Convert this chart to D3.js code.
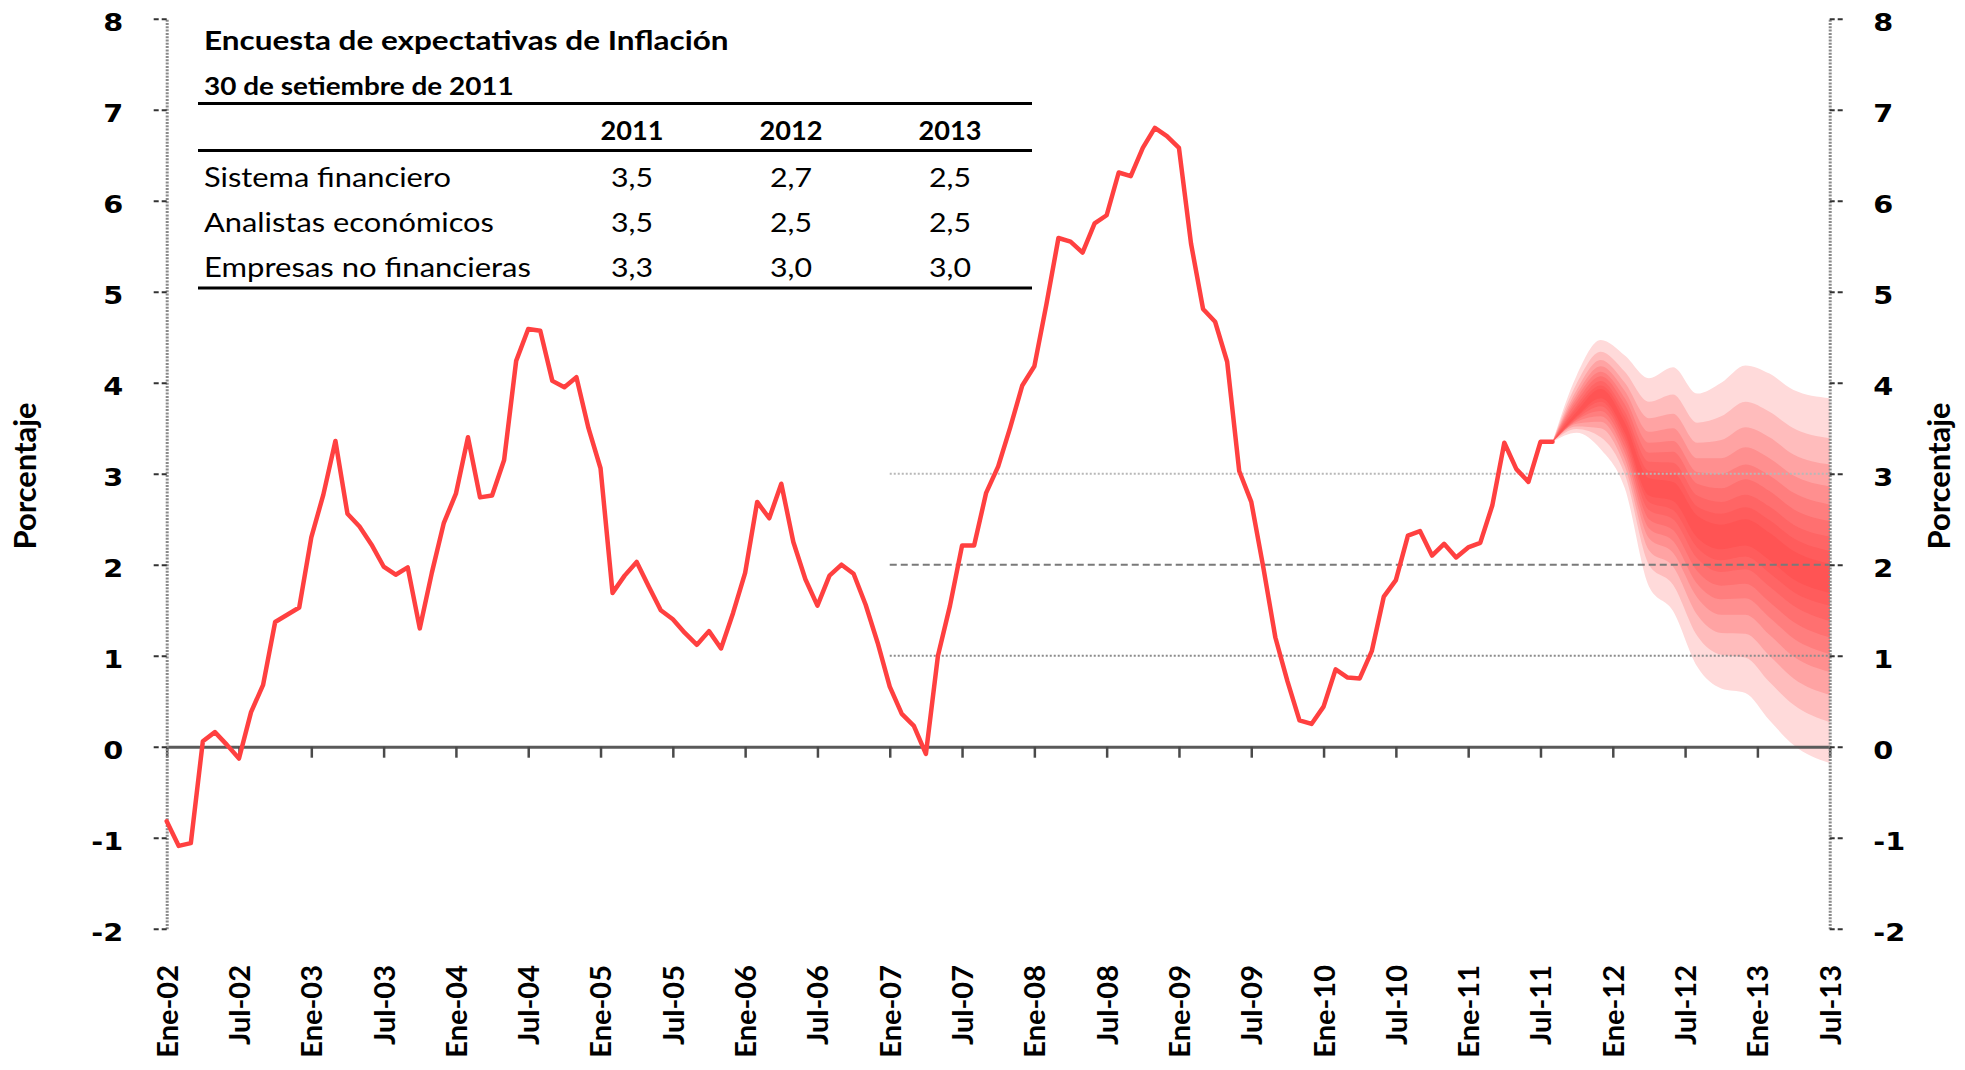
<!DOCTYPE html>
<html><head><meta charset="utf-8">
<script src="https://cdn.jsdelivr.net/npm/d3@7"></script>
<style>body{margin:0;background:#fff;} svg{display:block;background:#fff;}</style>
</head><body>
<svg id="chart" width="1965" height="1070"></svg>
<script>
// ---------------- DATA ----------------
const seriesStart = "Ene-02";
// Inflación 12 meses (%), mensual Ene-02 .. Ago-11
const inflation = [
 -0.82,-1.09,-1.06,0.06,0.16,0.02,-0.13,0.38,0.68,1.37,1.45,1.53,
 2.30,2.77,3.36,2.56,2.42,2.22,1.98,1.89,1.97,1.30,1.91,2.46,
 2.78,3.40,2.74,2.76,3.15,4.24,4.59,4.57,4.02,3.95,4.06,3.50,
 3.06,1.69,1.88,2.03,1.76,1.50,1.40,1.25,1.12,1.27,1.08,1.47,
 1.91,2.69,2.51,2.89,2.25,1.84,1.55,1.88,2.00,1.90,1.56,1.14,
 0.66,0.36,0.23,-0.08,1.00,1.55,2.21,2.21,2.79,3.08,3.51,3.97,
 4.18,4.86,5.59,5.55,5.43,5.75,5.84,6.31,6.27,6.58,6.80,6.71,
 6.58,5.53,4.81,4.67,4.23,3.03,2.69,1.97,1.20,0.72,0.29,0.25,
 0.44,0.85,0.76,0.75,1.05,1.65,1.83,2.32,2.37,2.10,2.23,2.08,
 2.19,2.24,2.65,3.34,3.05,2.91,3.35,3.35
];

// Fan chart (percentiles of projected inflation)
const fanPeriods = ["Ago-11","Oct-11","Dic-11","Feb-12","Abr-12","Jun-12","Ago-12","Oct-12","Dic-12","Feb-13","Abr-13","Jul-13"];
const fanP05 = [3.35,3.45,3.27,2.84,1.76,1.49,0.88,0.64,0.59,0.29,0.02,-0.18];
const fanP10 = [3.35,3.49,3.40,2.99,2.00,1.78,1.22,1.01,0.98,0.71,0.46,0.27];
const fanP15 = [3.35,3.52,3.50,3.08,2.16,1.98,1.45,1.25,1.24,1.00,0.75,0.57];
const fanP20 = [3.35,3.55,3.57,3.16,2.29,2.13,1.64,1.45,1.45,1.23,0.99,0.82];
const fanP25 = [3.35,3.57,3.63,3.23,2.40,2.26,1.79,1.62,1.63,1.42,1.19,1.02];
const fanP30 = [3.35,3.59,3.69,3.29,2.50,2.38,1.93,1.77,1.79,1.59,1.37,1.20];
const fanP35 = [3.35,3.60,3.74,3.35,2.60,2.50,2.07,1.92,1.95,1.76,1.55,1.38];
const fanP40 = [3.35,3.62,3.79,3.40,2.69,2.60,2.19,2.05,2.09,1.91,1.70,1.55];
const fanP45 = [3.35,3.63,3.83,3.45,2.76,2.70,2.30,2.17,2.21,2.05,1.84,1.69];
const fanP50 = [3.35,3.65,3.88,3.50,2.85,2.80,2.42,2.30,2.35,2.20,2.00,1.85];
const fanP55 = [3.35,3.68,3.93,3.56,2.95,2.91,2.54,2.44,2.50,2.35,2.15,2.01];
const fanP60 = [3.35,3.72,3.97,3.62,3.03,3.01,2.64,2.56,2.63,2.49,2.29,2.15];
const fanP65 = [3.35,3.75,4.02,3.68,3.13,3.12,2.76,2.69,2.77,2.64,2.44,2.31];
const fanP70 = [3.35,3.79,4.07,3.76,3.23,3.24,2.89,2.84,2.94,2.81,2.61,2.48];
const fanP75 = [3.35,3.83,4.12,3.83,3.34,3.36,3.02,3.00,3.10,2.98,2.79,2.66];
const fanP80 = [3.35,3.87,4.18,3.91,3.46,3.50,3.17,3.17,3.29,3.17,2.98,2.86];
const fanP85 = [3.35,3.92,4.25,4.00,3.61,3.66,3.34,3.37,3.51,3.40,3.21,3.10];
const fanP90 = [3.35,3.99,4.34,4.12,3.79,3.87,3.56,3.63,3.79,3.68,3.50,3.39];
const fanP95 = [3.35,4.08,4.47,4.30,4.05,4.17,3.88,4.00,4.19,4.10,3.92,3.83];

const xTickLabels = ["Ene-02","Jul-02","Ene-03","Jul-03","Ene-04","Jul-04","Ene-05","Jul-05",
  "Ene-06","Jul-06","Ene-07","Jul-07","Ene-08","Jul-08","Ene-09","Jul-09","Ene-10","Jul-10",
  "Ene-11","Jul-11","Ene-12","Jul-12","Ene-13","Jul-13"];
const yTicks = [-2,-1,0,1,2,3,4,5,6,7,8];
const refLevels = [3, 2, 1];
const refStart = "Ene-07";
const yAxisTitle = "Porcentaje";

const tableTitle = "Encuesta de expectativas de Inflación";
const tableSubtitle = "30 de setiembre de 2011";
const tableYears = ["2011","2012","2013"];
const tableRows = ["Sistema financiero","Analistas económicos","Empresas no financieras"];
const tableSF = [3.5, 2.7, 2.5];
const tableAE = [3.5, 2.5, 2.5];
const tableENF = [3.3, 3.0, 3.0];

// ---------------- HELPERS ----------------
const monthNames = ["Ene","Feb","Mar","Abr","May","Jun","Jul","Ago","Set","Oct","Nov","Dic"];
function monthIndex(lbl){
  const [m, yy] = lbl.split("-");
  const s = seriesStart.split("-");
  return (+yy - +s[1]) * 12 + monthNames.indexOf(m) - monthNames.indexOf(s[0]);
}
const svg = d3.select("#chart");

function addText(parent, x, y, txt, o){
  const g = parent.append("g").attr("transform", `translate(${x},${y})` + (o.rotate ? ` rotate(${o.rotate})` : ""));
  const t = g.append("text")
    .attr("text-anchor", o.anchor || "start")
    .attr("dy", o.dy || 0)
    .style("font-family", o.family || "Lato, 'Open Sans', sans-serif")
    .style("font-size", o.size + "px")
    .style("font-weight", o.weight || 400)
    .style("fill", o.fill || "#000")
    .text(txt);
  let s = o.sx || 1;
  if (o.width) { const w = t.node().getComputedTextLength(); if (w > 0) s = o.width / w; }
  t.attr("transform", `scale(${s},1)`);
  return t;
}

// ---------------- SCALES ----------------
const x = d3.scaleLinear()
  .domain([monthIndex("Ene-02"), monthIndex("Jul-13")])
  .range([166.7, 1829.7]);
const y = d3.scaleLinear().domain([-2, 8]).range([928.7, 18.7]);

// ---------------- FAN ----------------
const fanX = fanPeriods.map(monthIndex);
const fanPairs = [
  [fanP05, fanP95],[fanP10, fanP90],[fanP15, fanP85],[fanP20, fanP80],[fanP25, fanP75],
  [fanP30, fanP70],[fanP35, fanP65],[fanP40, fanP60],[fanP45, fanP55]
];
const area = d3.area()
  .x(d => x(d.m)).y0(d => y(d.lo)).y1(d => y(d.hi))
  .curve(d3.curveMonotoneX);
const gFan = svg.append("g");
fanPairs.forEach((pair, k) => {
  const a = 1 - Math.pow(1 - 0.18, k + 1);
  const gb = Math.round(255 - 205 * a);
  const data = fanX.map((m, i) => ({m, lo: pair[0][i], hi: pair[1][i]}));
  gFan.append("path").datum(data)
    .attr("d", area)
    .attr("fill", `rgb(255,${gb},${gb})`)
    .attr("stroke", "none");
});

// ---------------- REFERENCE LINES ----------------
const refStyle = {
  3: {stroke: "#b8b8b8", dash: "2,2", w: 2},
  2: {stroke: "#7a7a7a", dash: "7,4", w: 2},
  1: {stroke: "#8c8c8c", dash: "2,2", w: 2}
};
svg.append("g").selectAll("line").data(refLevels).join("line")
  .attr("x1", x(monthIndex(refStart))).attr("x2", x(monthIndex("Jul-13")))
  .attr("y1", d => y(d)).attr("y2", d => y(d))
  .attr("stroke", d => refStyle[d].stroke)
  .attr("stroke-width", d => refStyle[d].w)
  .attr("stroke-dasharray", d => refStyle[d].dash);

// ---------------- X AXIS (at 0) ----------------
const xTickVals = xTickLabels.map(monthIndex);
const xAxis = d3.axisBottom(x).tickValues(xTickVals).tickSize(11).tickSizeOuter(0)
  .tickFormat((d, i) => xTickLabels[i]);
const gx = svg.append("g").attr("transform", `translate(0,${y(0)})`).call(xAxis);
gx.select(".domain").attr("stroke", "#5a5a5a").attr("stroke-width", 3);
gx.selectAll(".tick line").attr("stroke", "#4a4a4a").attr("stroke-width", 2.5);
gx.selectAll(".tick text")
  .attr("transform", "rotate(-90)")
  .attr("x", -(965 - y(0)))
  .attr("y", 0)
  .attr("dy", "0.36em")
  .attr("text-anchor", "end")
  .style("font-family", "Lato, sans-serif")
  .style("font-weight", 700)
  .style("font-size", "29px")
  .style("fill", "#000");

// ---------------- Y AXES ----------------
function styleY(g){
  g.select(".domain").attr("stroke", "#8a8a8a").attr("stroke-width", 3).attr("stroke-dasharray", "2,1.3");
  g.selectAll(".tick line").attr("stroke", "#333").attr("stroke-width", 2).attr("stroke-dasharray", "5,3");
}
const gyl = svg.append("g").attr("transform", `translate(${x.range()[0]},0)`)
  .call(d3.axisLeft(y).tickValues(yTicks).tickSize(15).tickSizeOuter(0).tickFormat(""));
styleY(gyl);
const gyr = svg.append("g").attr("transform", `translate(${x.range()[1]},0)`)
  .call(d3.axisRight(y).tickValues(yTicks).tickSize(15).tickSizeOuter(0).tickFormat(""));
styleY(gyr);

const gyLabels = svg.append("g");
yTicks.forEach(v => {
  addText(gyLabels, x.range()[0] - 43.5, y(v) + 12, String(v),
    {size: 25, weight: 700, family: "'DejaVu Sans', sans-serif", anchor: "end", sx: 1.15});
  addText(gyLabels, x.range()[1] + 43.5, y(v) + 12, String(v),
    {size: 25, weight: 700, family: "'DejaVu Sans', sans-serif", anchor: "start", sx: 1.15});
});

addText(svg, 36, 476, yAxisTitle, {size: 30, weight: 700, anchor: "middle", rotate: -90, width: 147});
addText(svg, 1950, 476, yAxisTitle, {size: 30, weight: 700, anchor: "middle", rotate: -90, width: 147});

// ---------------- MAIN LINE ----------------
const line = d3.line().x((d, i) => x(i)).y(d => y(d));
svg.append("path").datum(inflation)
  .attr("d", line)
  .attr("fill", "none")
  .attr("stroke", "#ff4040")
  .attr("stroke-width", 4.5)
  .attr("stroke-linejoin", "round")
  .attr("stroke-linecap", "round");

// ---------------- TABLE ----------------
const gT = svg.append("g");
addText(gT, 204, 50, tableTitle, {size: 26, weight: 700, width: 525});
addText(gT, 204, 95, tableSubtitle, {size: 24, weight: 700, width: 310});
[103.5, 150.5, 288].forEach(yy => {
  gT.append("line").attr("x1", 198).attr("x2", 1032).attr("y1", yy).attr("y2", yy)
    .attr("stroke", "#000").attr("stroke-width", 3);
});
const colX = [632, 791, 950];
tableYears.forEach((t, i) => addText(gT, colX[i], 140, t, {size: 27, weight: 700, anchor: "middle", width: 63}));
const rowY = [186.5, 232, 277];
const rowW = [247, 290, 327];
const rowVals = [tableSF, tableAE, tableENF];
const fmt = v => d3.format(".1f")(v).replace(".", ",");
tableRows.forEach((r, i) => {
  addText(gT, 204, rowY[i], r, {size: 26, weight: 400, width: rowW[i]});
  rowVals[i].forEach((v, j) => addText(gT, colX[j], rowY[i], fmt(v), {size: 26, weight: 400, anchor: "middle", width: 42}));
});
</script>
</body></html>
